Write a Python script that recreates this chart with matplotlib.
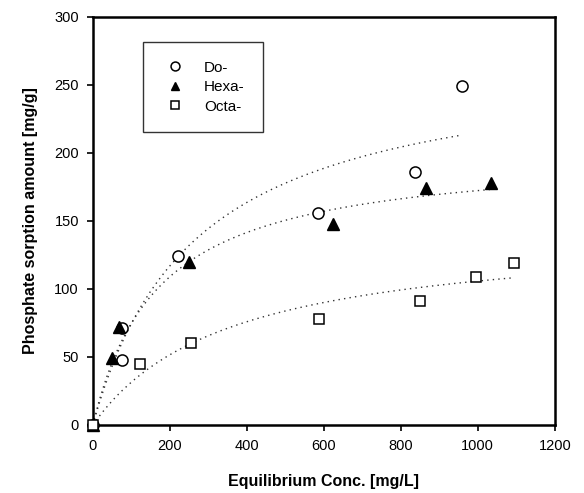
import numpy as np
import matplotlib
matplotlib.use("Agg")
import matplotlib.pyplot as plt

plt.rcParams['font.family'] = ['Liberation Sans', 'DejaVu Sans']

# Data
do_x = [0, 75, 77, 222, 585, 837, 959]
do_y = [0, 48, 71, 124, 156, 186, 249]
hexa_x = [0, 50, 68, 251, 623, 865, 1035]
hexa_y = [0, 49, 72, 120, 148, 174, 178]
octa_x = [0, 122, 256, 588, 850, 996, 1093]
octa_y = [0, 45, 60, 78, 91, 109, 119]

# Langmuir fit parameters (qm, K, end of curve)
do_fit = (272.0, 0.00377, 953)
hexa_fit = (201.5, 0.00589, 1031)
octa_fit = (143.4, 0.00281, 1087)

xticks = [0, 200, 400, 600, 800, 1000, 1200]
yticks = [0, 50, 100, 150, 200, 250, 300]

fig = plt.figure(figsize=(5.84, 4.93), dpi=100)
ax = fig.add_axes([0.159, 0.138, 0.791, 0.828])

for qm, K, xend in (do_fit, hexa_fit, octa_fit):
    c = np.linspace(0, xend, 200)
    ax.plot(c, qm * K * c / (1 + K * c), linestyle=(0, (1, 3)), color='#333333',
            linewidth=1.0, zorder=1)

ax.plot(do_x, do_y, linestyle='none', marker='o', markersize=8, markerfacecolor='white',
        markeredgecolor='black', markeredgewidth=1.1, label='Do-', zorder=3)
ax.plot(hexa_x, hexa_y, linestyle='none', marker='^', markersize=8, markerfacecolor='black',
        markeredgecolor='black', label='Hexa-', zorder=3)
ax.plot(octa_x, octa_y, linestyle='none', marker='s', markersize=7.5, markerfacecolor='white',
        markeredgecolor='black', markeredgewidth=1.1, label='Octa-', zorder=3)

ax.set_xlim(0, 1200)
ax.set_ylim(0, 300)
ax.set_xticks(xticks)
ax.set_yticks(yticks)
ax.tick_params(direction='out', length=4, width=1.2, labelsize=10.5, pad=6)
for line in ax.get_lines():
    line.set_clip_on(False)
for s in ax.spines.values():
    s.set_linewidth(1.8)

ax.set_xlabel('Equilibrium Conc. [mg/L]', fontsize=11.5, fontweight='bold', labelpad=15)
ax.set_ylabel('Phosphate sorption amount [mg/g]', fontsize=11.5, fontweight='bold', labelpad=12)

leg = ax.legend(loc='upper left', bbox_to_anchor=(0.108, 0.937), frameon=True, fancybox=False,
                edgecolor='black', fontsize=11, markerscale=0.8, handlelength=1.8,
                handletextpad=1.0, borderpad=1.2, labelspacing=0.35, borderaxespad=0)
leg.get_frame().set_linewidth(1.0)

fig.savefig('out.png', dpi=100)
